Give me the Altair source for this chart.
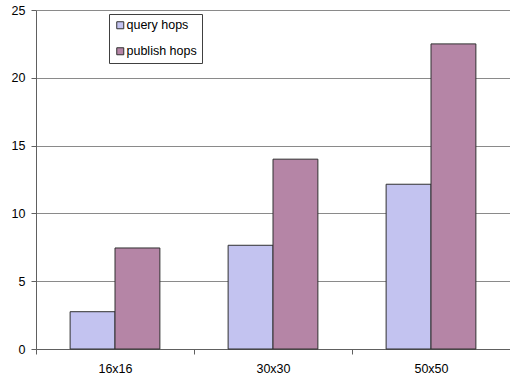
import altair as alt
import pandas as pd

# Average hop counts per grid size
grids = ["16x16", "30x30", "50x50"]
query_hops = [2.75, 7.65, 12.15]
publish_hops = [7.45, 14.0, 22.5]
series = ["query hops", "publish hops"]
colors = ["#c3c3f0", "#b585a6"]

rows = []
for g, q, p in zip(grids, query_hops, publish_hops):
    rows.append({"grid": g, "series": series[0], "hops": q})
    rows.append({"grid": g, "series": series[1], "hops": p})
df = pd.DataFrame(rows)

font = "Liberation Sans"

chart = (
    alt.Chart(df)
    .mark_bar(stroke="#303030", strokeWidth=1)
    .encode(
        x=alt.X(
            "grid:N",
            sort=grids,
            title=None,
            scale=alt.Scale(paddingInner=0, paddingOuter=0),
            axis=alt.Axis(
                labelAngle=0,
                labelFontSize=12.5,
                labelFont=font,
                labelColor="#000000",
                labelPadding=8,
                tickBand="extent",
                tickSize=5,
                tickColor="#606060",
                domainColor="#606060",
                grid=False,
            ),
        ),
        xOffset=alt.XOffset(
            "series:N",
            sort=series,
            scale=alt.Scale(paddingInner=0, paddingOuter=0.76),
        ),
        y=alt.Y(
            "hops:Q",
            title=None,
            scale=alt.Scale(domain=[0, 25], nice=False),
            axis=alt.Axis(
                values=[0, 5, 10, 15, 20, 25],
                labelFontSize=12.5,
                labelFont=font,
                labelColor="#000000",
                labelPadding=6,
                tickSize=5,
                tickColor="#606060",
                domainColor="#606060",
                gridColor="#8a8a8a",
                gridWidth=1,
            ),
        ),
        fill=alt.Fill(
            "series:N",
            sort=series,
            scale=alt.Scale(domain=series, range=colors),
            legend=alt.Legend(
                title=None,
                orient="none",
                legendX=73,
                legendY=4,
                symbolType="square",
                symbolSize=49,
                symbolStrokeColor="#303030",
                symbolStrokeWidth=1,
                labelFont=font,
                labelFontSize=12.5,
                labelColor="#000000",
                labelOffset=0,
                rowPadding=13,
                padding=5,
                strokeColor="#404040",
                fillColor="#ffffff",
            ),
        ),
    )
    .properties(
        width=474,
        height=339,
        padding={"left": 36, "top": 10, "right": 0, "bottom": 26},
        autosize=alt.AutoSizeParams(type="none"),
    )
    .configure_view(stroke=None)
)

chart.save("out.html", embed_options={"renderer": "svg", "actions": False})
